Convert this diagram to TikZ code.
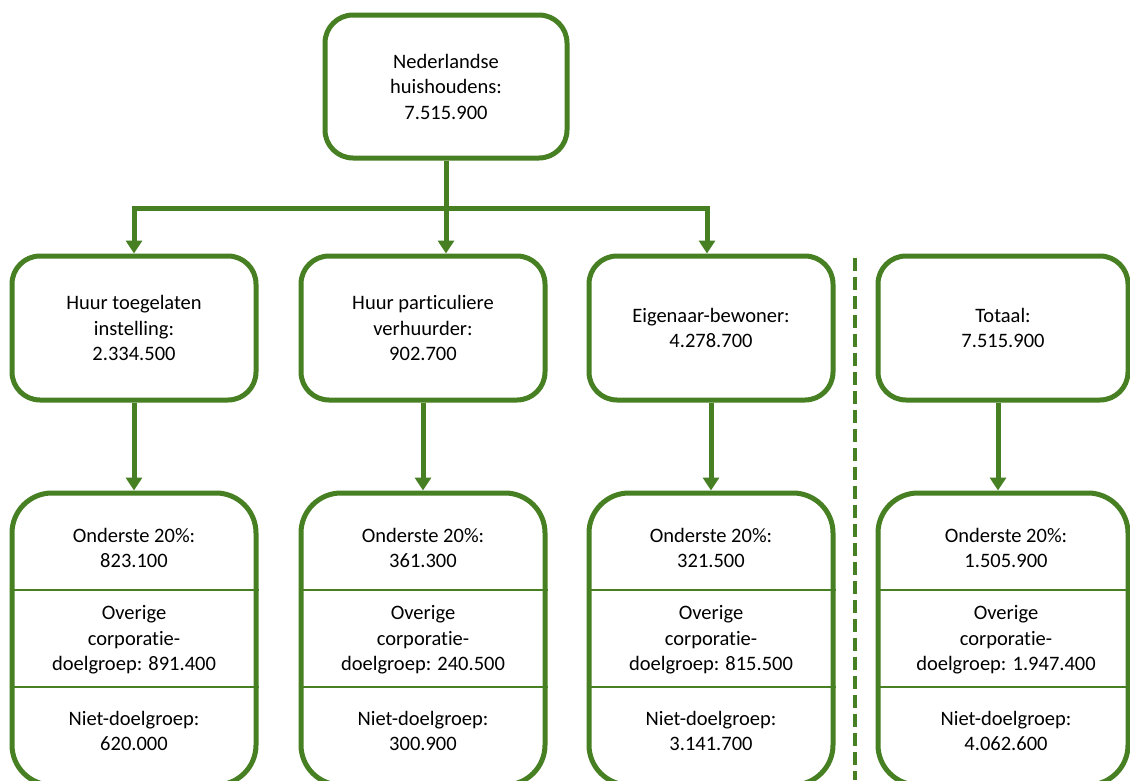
\documentclass[tikz,border=0pt]{standalone}
\usepackage{fontspec}
\setmainfont[RawFeature=-liga]{Carlito}
\usetikzlibrary{arrows.meta}
\definecolor{hhgreen}{RGB}{71,127,35}
\tikzset{
  hhbox/.style={draw=hhgreen, line width=5pt, rounded corners=28pt, fill=white,
    align=center, inner sep=0pt},
  hhsplitbox/.style={hhbox, rounded corners=40pt},
  hharrow/.style={draw=hhgreen, line width=5pt,
    -{Triangle[width=16pt,length=13pt]}},
  hhdivider/.style={draw=hhgreen, line width=2.5pt},
  hhtext/.style={align=center, inner sep=0pt}
}
\begin{document}
\begin{tikzpicture}[x=1pt,y=-1pt,font=\fontsize{20.5}{25.5}\selectfont]
\clip (0,0) rectangle (1130,780);
\fill[white] (0,0) rectangle (1130,780);
% top
\node[hhbox, minimum width=242pt, minimum height=143pt] (nl) at (446,86.5)
  {Nederlandse\\huishoudens:\\7.515.900};
% middle row
\node[hhbox, minimum width=244pt, minimum height=144pt] (toegelaten) at (134,328)
  {Huur toegelaten\\instelling:\\2.334.500};
\node[hhbox, minimum width=244pt, minimum height=144pt] (particulier) at (423,328)
  {Huur particuliere\\verhuurder:\\902.700};
\node[hhbox, minimum width=244pt, minimum height=144pt] (eigenaar) at (711,328)
  {Eigenaar-bewoner:\\4.278.700};
\node[hhbox, minimum width=250pt, minimum height=144pt] (totaal) at (1003,328)
  {Totaal:\\7.515.900};
% bottom row
\node[hhsplitbox, minimum width=244pt, minimum height=292pt] (toegelatenDg) at (134,639) {};
\node[hhsplitbox, minimum width=244pt, minimum height=292pt] (particulierDg) at (423,639) {};
\node[hhsplitbox, minimum width=244pt, minimum height=292pt] (eigenaarDg) at (711,639) {};
\node[hhsplitbox, minimum width=250pt, minimum height=292pt] (totaalDg) at (1003,639) {};
\draw[hhdivider] (toegelatenDg.west |- 0,590) -- (toegelatenDg.east |- 0,590);
\draw[hhdivider] (toegelatenDg.west |- 0,687) -- (toegelatenDg.east |- 0,687);
\draw[hhdivider] (particulierDg.west |- 0,590) -- (particulierDg.east |- 0,590);
\draw[hhdivider] (particulierDg.west |- 0,687) -- (particulierDg.east |- 0,687);
\draw[hhdivider] (eigenaarDg.west |- 0,590) -- (eigenaarDg.east |- 0,590);
\draw[hhdivider] (eigenaarDg.west |- 0,687) -- (eigenaarDg.east |- 0,687);
\draw[hhdivider] (totaalDg.west |- 0,590) -- (totaalDg.east |- 0,590);
\draw[hhdivider] (totaalDg.west |- 0,687) -- (totaalDg.east |- 0,687);
\node[hhtext] (toegelatenA) at (134,548) {Onderste 20\%:\\823.100};
\node[hhtext] (toegelatenB) at (134,640) {Overige\\corporatie-\\doelgroep: 891.400};
\node[hhtext] (toegelatenC) at (134,731) {Niet-doelgroep:\\620.000};
\node[hhtext] (particulierA) at (423,548) {Onderste 20\%:\\361.300};
\node[hhtext] (particulierB) at (423,640) {Overige\\corporatie-\\doelgroep: 240.500};
\node[hhtext] (particulierC) at (423,731) {Niet-doelgroep:\\300.900};
\node[hhtext] (eigenaarA) at (711,548) {Onderste 20\%:\\321.500};
\node[hhtext] (eigenaarB) at (711,640) {Overige\\corporatie-\\doelgroep: 815.500};
\node[hhtext] (eigenaarC) at (711,731) {Niet-doelgroep:\\3.141.700};
\node[hhtext] (totaalA) at (1006,548) {Onderste 20\%:\\1.505.900};
\node[hhtext] (totaalB) at (1006,640) {Overige\\corporatie-\\doelgroep: 1.947.400};
\node[hhtext] (totaalC) at (1006,731) {Niet-doelgroep:\\4.062.600};
% connectors
\coordinate (split) at (446,208);
\draw[hharrow] (nl.south) -- (nl.south |- particulier.north);
\draw[hharrow] (split) -| (toegelaten.north);
\draw[hharrow] (split) -| ([xshift=-4pt]eigenaar.north);
\draw[hharrow] (toegelaten) -- (toegelatenDg);
\draw[hharrow] (particulier) -- (particulierDg);
\draw[hharrow] (eigenaar) -- (eigenaarDg);
\draw[hharrow] ([xshift=-5pt]totaal.south) -- ([xshift=-5pt]totaalDg.north);
% separator
\coordinate (sepTop) at (855,258);
\coordinate (sepBottom) at (855,780);
\draw[hhgreen, line width=4pt, dash pattern=on 13pt off 6pt] (sepTop) -- (sepBottom);
\end{tikzpicture}
\end{document}
